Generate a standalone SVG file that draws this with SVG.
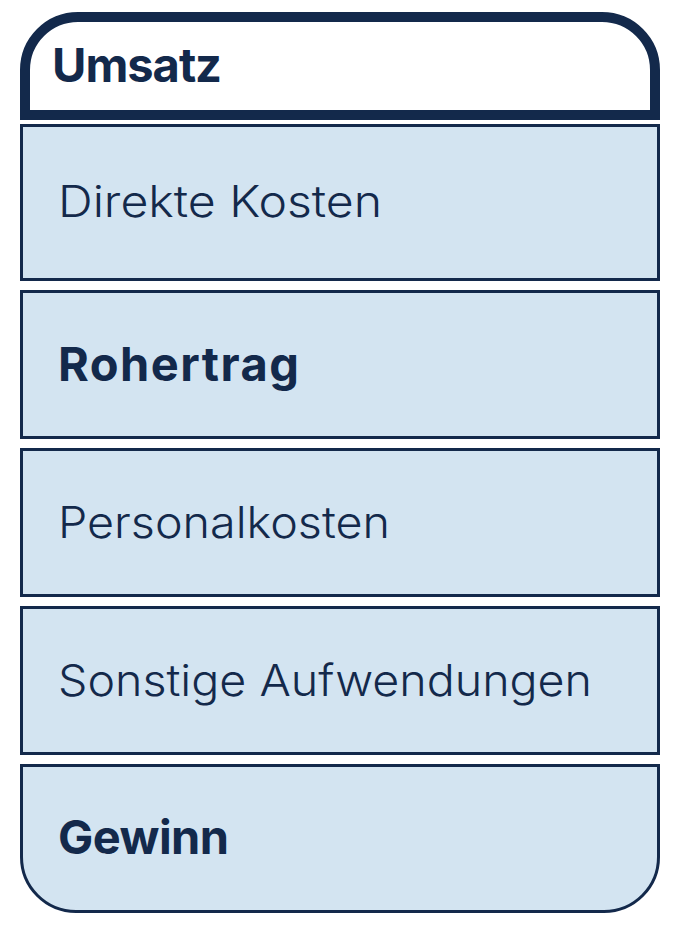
<svg xmlns="http://www.w3.org/2000/svg" width="680" height="930" viewBox="0 0 680 930">
<style>
.box{fill:#d3e4f1;stroke:#13294b;stroke-width:3}
.lbl{font-family:Inter,"Noto Sans","Liberation Sans",sans-serif;fill:#13294b;font-size:44px;font-weight:300}
.b{font-weight:700;font-size:47px}
</style>
<rect width="680" height="930" fill="#ffffff"/>
<g id="umsatz">
<path d="M25,115 V70 A53,53 0 0 1 78,17 H602 A53,53 0 0 1 655,70 V115 Z" fill="#ffffff" stroke="#13294b" stroke-width="10"/>
<text class="lbl b" x="52" y="82" textLength="170">Umsatz</text>
</g>
<g id="direkte-kosten">
<rect class="box" x="21.5" y="125.5" width="637" height="154"/>
<text class="lbl" x="58" y="217" textLength="324" lengthAdjust="spacingAndGlyphs">Direkte Kosten</text>
</g>
<g id="rohertrag">
<rect class="box" x="21.5" y="291.5" width="637" height="146"/>
<text class="lbl b" x="58" y="381" textLength="241">Rohertrag</text>
</g>
<g id="personalkosten">
<rect class="box" x="21.5" y="449.5" width="637" height="146"/>
<text class="lbl" x="58" y="538" textLength="332" lengthAdjust="spacingAndGlyphs">Personalkosten</text>
</g>
<g id="sonstige-aufwendungen">
<rect class="box" x="21.5" y="607.5" width="637" height="146"/>
<text class="lbl" x="58" y="696" textLength="534" lengthAdjust="spacingAndGlyphs">Sonstige Aufwendungen</text>
</g>
<g id="gewinn">
<path class="box" d="M21.5,765.5 H658.5 V857 A54.5,54.5 0 0 1 604,911.5 H76 A54.5,54.5 0 0 1 21.5,857 Z"/>
<text class="lbl b" x="58" y="854" textLength="171">Gewinn</text>
</g>
<g id="connectors"/>
</svg>
